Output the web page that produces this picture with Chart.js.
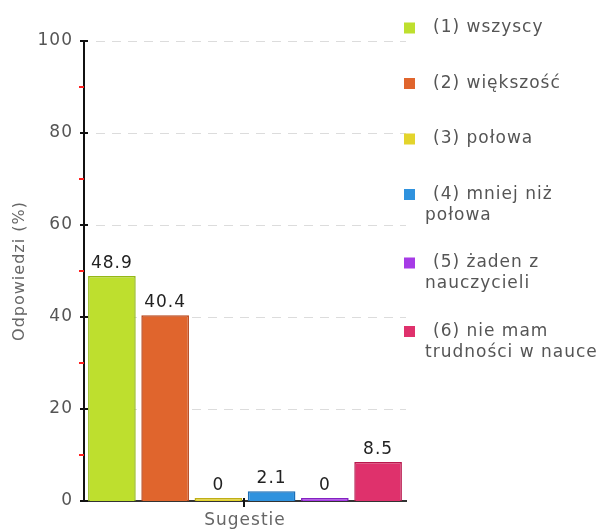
<!DOCTYPE html>
<html>
<head>
<meta charset="utf-8">
<script src="https://cdn.jsdelivr.net/npm/chart.js@4.4.0/dist/chart.umd.min.js"></script>
<style>
  html, body { margin: 0; padding: 0; background: #fff; }
  #wrap { width: 609px; height: 530px; }
</style>
</head>
<body>
<div id="wrap"><canvas id="answersChart" width="609" height="530"></canvas></div>
<script>
const categories = ['Sugestie'];
const seriesNames = [
  ['(1) wszyscy'],
  ['(2) większość'],
  ['(3) połowa'],
  ['(4) mniej niż', 'połowa'],
  ['(5) żaden z', 'nauczycieli'],
  ['(6) nie mam', 'trudności w nauce']
];
const seriesValues = [48.9, 40.4, 0, 2.1, 0, 8.5];
const fillColors = ['#bedf2e', '#e0652d', '#e3d42c', '#2f92de', '#a63be6', '#df316c'];
const borderColors = ['#94b815', '#b84417', '#bfae16', '#1a6db5', '#8420c2', '#b8184d'];
const yTicks = [0, 20, 40, 60, 80, 100];
const yMinorTicks = [10, 30, 50, 70, 90];
const yTitle = 'Odpowiedzi (%)';

const FONT = '"DejaVu Sans", Verdana, sans-serif';

// spacing like the old flash renderer
const textSpacing = {
  id: 'textSpacing',
  beforeDraw(chart) {
    chart.ctx.letterSpacing = '1px';
  }
};

const axisMarks = {
  id: 'axisMarks',
  beforeDatasetsDraw(chart) {
    const { ctx, chartArea, scales: { y } } = chart;
    ctx.save();
    ctx.strokeStyle = '#dcdcdc';
    ctx.lineWidth = 1;
    ctx.setLineDash([9, 7]);
    yTicks.forEach(v => {
      if (v === 0) return;
      const py = Math.round(y.getPixelForValue(v)) + 0.5;
      ctx.beginPath();
      ctx.moveTo(chartArea.left + 12, py);
      ctx.lineTo(chartArea.right, py);
      ctx.stroke();
    });
    ctx.restore();
  },
  afterDatasetsDraw(chart) {
    const { ctx, chartArea, scales: { x, y } } = chart;
    const left = chartArea.left;
    ctx.save();
    ctx.lineWidth = 2;
    ctx.strokeStyle = '#ff2020';
    yMinorTicks.forEach(v => {
      const py = Math.round(y.getPixelForValue(v));
      ctx.beginPath();
      ctx.moveTo(left - 5, py);
      ctx.lineTo(left, py);
      ctx.stroke();
    });
    ctx.strokeStyle = '#111';
    yTicks.forEach(v => {
      const py = Math.round(y.getPixelForValue(v));
      ctx.beginPath();
      ctx.moveTo(left - 4, py);
      ctx.lineTo(left + 4, py);
      ctx.stroke();
    });
    const px = Math.round(x.getPixelForValue(0)) - 1;
    ctx.beginPath();
    ctx.moveTo(px, chartArea.bottom - 3);
    ctx.lineTo(px, chartArea.bottom + 6);
    ctx.stroke();
    ctx.restore();
  }
};

const valueLabels = {
  id: 'valueLabels',
  afterDatasetsDraw(chart) {
    const ctx = chart.ctx;
    ctx.save();
    ctx.font = '17px ' + FONT;
    ctx.fillStyle = '#222';
    ctx.textAlign = 'center';
    ctx.textBaseline = 'bottom';
    chart.data.datasets.forEach((ds, i) => {
      const bar = chart.getDatasetMeta(i).data[0];
      ctx.fillText(String(ds.data[0]), bar.x, bar.y - 4);
    });
    ctx.restore();
  }
};

const sideLegend = {
  id: 'sideLegend',
  afterDraw(chart) {
    const ctx = chart.ctx;
    const boxX = chart.chartArea.right - 2;
    ctx.save();
    ctx.font = '17px ' + FONT;
    ctx.textAlign = 'left';
    ctx.textBaseline = 'middle';
    let cy = 28;
    seriesNames.forEach((lines, i) => {
      ctx.fillStyle = fillColors[i];
      ctx.fillRect(boxX, cy - 5.5, 11, 11);
      ctx.fillStyle = '#555';
      lines.forEach((line, k) => {
        ctx.fillText(line, k === 0 ? boxX + 29 : boxX + 21, cy + k * 21);
      });
      cy += 55.5 + (lines.length - 1) * 13;
    });
    ctx.restore();
  }
};

const ctx = document.getElementById('answersChart');

new Chart(ctx, {
  type: 'bar',
  data: {
    labels: categories,
    datasets: seriesValues.map((v, i) => ({
      label: seriesNames[i].join(' '),
      data: [v],
      backgroundColor: fillColors[i],
      borderColor: borderColors[i],
      borderWidth: 1.5,
      borderSkipped: 'start',
      minBarLength: 3,
      categoryPercentage: 0.992,
      barPercentage: 0.895
    }))
  },
  options: {
    responsive: false,
    animation: false,
    layout: {
      padding: { top: 41, right: 203, bottom: 0, left: 0 }
    },
    plugins: {
      legend: { display: false },
      tooltip: { enabled: false }
    },
    scales: {
      x: {
        grid: { display: false, drawTicks: false },
        border: { display: true, color: '#333', width: 2 },
        ticks: {
          color: '#666',
          padding: 9,
          font: { family: FONT, size: 17 }
        },
        afterFit(scale) {
          scale.height = 29;
        }
      },
      y: {
        min: 0,
        max: 100,
        afterBuildTicks(scale) {
          scale.ticks = yTicks.map(v => ({ value: v }));
        },
        grid: { display: false, drawTicks: false },
        border: { display: true, color: '#111', width: 2 },
        ticks: {
          color: '#555',
          padding: 11,
          font: { family: FONT, size: 17 }
        },
        title: {
          display: true,
          text: yTitle,
          color: '#666',
          padding: { top: 10, bottom: 0 },
          font: { family: FONT, size: 16 }
        },
        afterFit(scale) {
          scale.width = 84;
        }
      }
    }
  },
  plugins: [textSpacing, axisMarks, valueLabels, sideLegend]
});
</script>
</body>
</html>
